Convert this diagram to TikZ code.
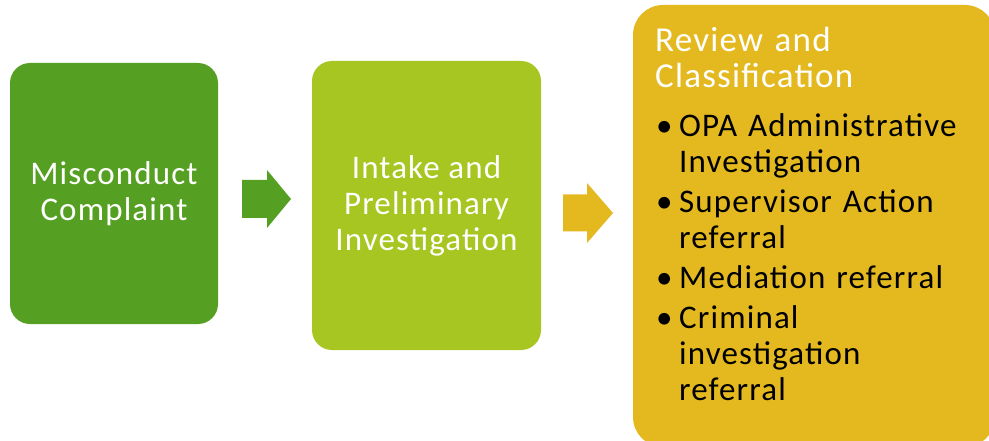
\documentclass[tikz,border=0pt]{standalone}
\usepackage{fontspec}
\setmainfont{Carlito}[LetterSpace=3.5]
\definecolor{stepgreen}{HTML}{55A023}
\definecolor{steplime}{HTML}{A8C622}
\definecolor{stepgold}{HTML}{E4B920}
\tikzset{
  stepbox/.style={rounded corners=20pt, minimum width=#1, inner sep=0pt, text=white, align=center,
    font=\fontsize{33}{36}\selectfont},
}
\begin{document}
\begin{tikzpicture}[x=1pt,y=-1pt]
  \useasboundingbox (0,0) rectangle (989,441);
  \clip (0,0) rectangle (989,441);
  % first stage
  \node[stepbox=208pt, minimum height=261pt, fill=stepgreen] (complaint) at (114,193.5)
    {Misconduct\\Complaint};
  % second stage
  \node[stepbox=229pt, minimum height=289pt, fill=steplime] (intake) at (426.5,205.5)
    {Intake and\\Preliminary\\Investigation};
  % third stage, running off the right and bottom edges
  \node[rounded corners=30pt, fill=stepgold, minimum width=362pt, minimum height=442pt,
    inner sep=0pt] (review) at (814,226) {};
  % block arrows between the stages
  \coordinate (arrowA) at (242,199);
  \fill[stepgreen] (arrowA) ++(0,-19) -- ++(25,0) -- ++(0,-10) -- ++(24,29) -- ++(-24,29)
    -- ++(0,-10) -- ++(-25,0) -- cycle;
  \coordinate (arrowB) at (563,213);
  \fill[stepgold] (arrowB) ++(0,-18.5) -- ++(24,0) -- ++(0,-11.5) -- ++(26,30) -- ++(-26,30)
    -- ++(0,-11.5) -- ++(-24,0) -- cycle;
  % title of the third stage
  \node[anchor=base west, inner sep=0pt, text=white, text width=320pt, align=left,
    font=\fontsize{35}{36}\selectfont] (reviewtitle) at (655,52)
    {Review and\\Classification};
  % outcomes
  \node[anchor=base west, inner sep=0pt, text width=330pt, align=left,
    font=\fontsize{33}{36}\selectfont] (outcomes) at (656,137)
    {\setlength{\parskip}{4pt}%
     \hangindent=23pt\hangafter=1\makebox[23pt][l]{\textbullet}OPA Administrative\newline Investigation\par
     \hangindent=23pt\hangafter=1\makebox[23pt][l]{\textbullet}Supervisor Action\newline referral\par
     \hangindent=23pt\hangafter=1\makebox[23pt][l]{\textbullet}Mediation referral\par
     \hangindent=23pt\hangafter=1\makebox[23pt][l]{\textbullet}Criminal\newline investigation\newline referral\par};
\end{tikzpicture}
\end{document}
